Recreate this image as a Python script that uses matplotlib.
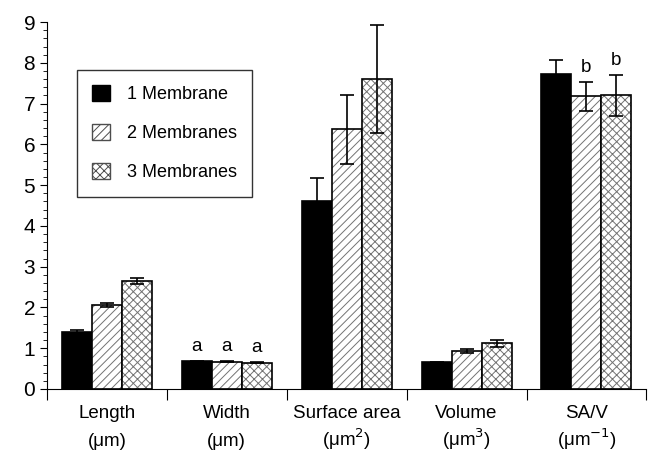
import numpy as np
import matplotlib
matplotlib.use("Agg")
import matplotlib.pyplot as plt
from matplotlib.ticker import MultipleLocator
from matplotlib.transforms import blended_transform_factory
from matplotlib.patches import Patch

plt.rcParams['font.family'] = ['Liberation Sans', 'DejaVu Sans']
plt.rcParams['hatch.linewidth'] = 0.7

# data
categories = ["Length", "Width", "Surface area", "Volume", "SA/V"]
units = ["(\u03bcm)", "(\u03bcm)", "(\u03bcm$^{2}$)", "(\u03bcm$^{3}$)", "(\u03bcm$^{-1}$)"]
series = ["1 Membrane", "2 Membranes", "3 Membranes"]
one_mem = [1.41, 0.68, 4.62, 0.65, 7.72]
two_mem = [2.07, 0.67, 6.37, 0.93, 7.18]
three_mem = [2.65, 0.64, 7.60, 1.12, 7.20]
one_err = [0.03, 0.01, 0.55, 0.02, 0.35]
two_err = [0.05, 0.01, 0.85, 0.05, 0.35]
three_err = [0.08, 0.01, 1.33, 0.08, 0.50]
letters_one = ["", "a", "", "", ""]
letters_two = ["", "a", "", "", "b"]
letters_three = ["", "a", "", "", "b"]

fig = plt.figure(figsize=(6.48, 4.51), dpi=100)
ax = fig.add_axes([0.0725, 0.1375, 0.925, 0.8135])

x = np.arange(len(categories))
w = 0.25
hatches = [None, "////", "xxxx"]
vals = [one_mem, two_mem, three_mem]
errs = [one_err, two_err, three_err]
lets = [letters_one, letters_two, letters_three]

for i in range(3):
    pos = x + (i - 1) * w
    if hatches[i] is None:
        ax.bar(pos, vals[i], w, color="black", edgecolor="black", linewidth=1.2)
    else:
        # grey hatch first, then a black outline on top
        ax.bar(pos, vals[i], w, facecolor="white", edgecolor="0.45",
               hatch=hatches[i], linewidth=0)
        ax.bar(pos, vals[i], w, facecolor="none", edgecolor="black", linewidth=1.2)
    ax.errorbar(pos, vals[i], yerr=errs[i], fmt="none", ecolor="black",
                elinewidth=1.2, capsize=5, capthick=1.2)
    for p, v, e, t in zip(pos, vals[i], errs[i], lets[i]):
        if t:
            ax.text(p, v + e + 0.15, t, ha="center", va="bottom", fontsize=13.5)

ax.set_xlim(-0.5, 4.5)
ax.set_ylim(0, 9)
ax.yaxis.set_major_locator(MultipleLocator(1))
ax.yaxis.set_minor_locator(MultipleLocator(0.2))
ax.tick_params(axis="y", which="major", length=5, labelsize=15, direction="out")
ax.tick_params(axis="y", which="minor", length=3)
ax.set_xticks(np.arange(-0.5, 4.6, 1))
ax.set_xticklabels([])
ax.tick_params(axis="x", length=8, direction="out")
for s in ["top", "right"]:
    ax.spines[s].set_visible(False)

tr = blended_transform_factory(ax.transData, ax.transAxes)
for xi, c, u in zip(x, categories, units):
    ax.text(xi, -0.08, c, transform=tr, ha="center", va="baseline", fontsize=13.5)
    ax.text(xi, -0.155, u, transform=tr, ha="center", va="baseline", fontsize=13.5)

# legend proxies so hatch and outline show together
proxies = [Patch(facecolor="black", edgecolor="black", linewidth=1.0),
           Patch(facecolor="white", edgecolor="0.3", hatch="////", linewidth=1.0),
           Patch(facecolor="white", edgecolor="0.3", hatch="xxxx", linewidth=1.0)]
leg = ax.legend(proxies, series, loc="upper left", bbox_to_anchor=(0.05, 0.87),
                borderaxespad=0, fontsize=13,
                frameon=True, fancybox=False, edgecolor="black",
                handlelength=1.0, handleheight=1.0, labelspacing=1.15,
                borderpad=0.85, handletextpad=0.9)
leg.get_frame().set_linewidth(1.0)

fig.savefig("out.png", dpi=100)
